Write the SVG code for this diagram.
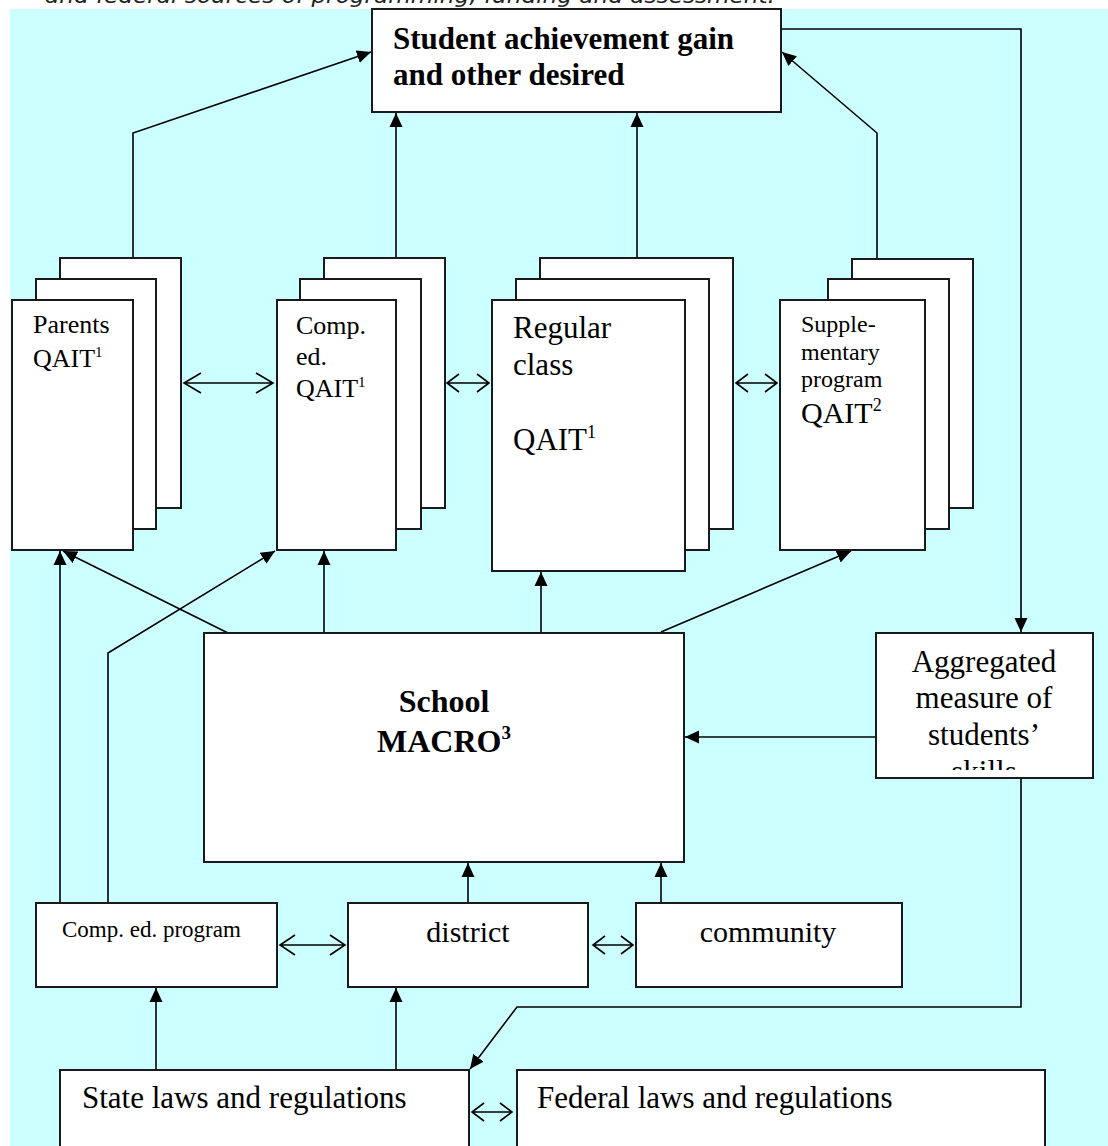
<svg xmlns="http://www.w3.org/2000/svg" width="1108" height="1146" viewBox="0 0 1108 1146">
<style>
.box{fill:#fff;stroke:#1a1a1a;stroke-width:2}
.ln{fill:none;stroke:#000;stroke-width:1.6}
.arr{fill:none;stroke:#000;stroke-width:1.6;marker-end:url(#ah)}
.dbl{fill:none;stroke:#000;stroke-width:1.6}
.t{font-family:"Liberation Serif","Times New Roman",serif;fill:#000}
.b{font-weight:bold}
</style>
<defs>
<marker id="ah" markerUnits="userSpaceOnUse" markerWidth="15" markerHeight="14" refX="14" refY="7" orient="auto">
<path d="M0,0.5 L14,7 L0,13.5 z" fill="#000"/>
</marker>
<clipPath id="aggClip"><rect x="877" y="634" width="215" height="136"/></clipPath>
</defs>
<rect x="0" y="0" width="1108" height="1146" fill="#fff"/>
<text x="45" y="3" font-family="DejaVu Sans, Verdana, sans-serif" font-style="italic" font-size="22" fill="#222" textLength="730" lengthAdjust="spacingAndGlyphs">and federal sources of programming, funding and assessment.</text>
<rect x="10" y="9" width="1098" height="1137" fill="#ccffff"/>

<g id="connectors">
<polyline class="arr" points="133,257 133,133 371,52"/>
<line class="arr" x1="396" y1="257" x2="396" y2="113"/>
<line class="arr" x1="637" y1="257" x2="637" y2="113"/>
<polyline class="arr" points="877,258 877,133 782,52"/>
<polyline class="arr" points="782,29 1021,29 1021,632"/>
<line class="arr" x1="876" y1="737" x2="685" y2="737"/>
<polyline class="arr" points="1021,778 1021,1007 517,1007 470,1069"/>
<line class="arr" x1="228" y1="633" x2="63" y2="551"/>
<line class="arr" x1="324" y1="633" x2="324" y2="551"/>
<line class="arr" x1="541" y1="633" x2="541" y2="572"/>
<line class="arr" x1="661" y1="632" x2="851" y2="551"/>
<line class="arr" x1="60" y1="903" x2="60" y2="551"/>
<polyline class="arr" points="108,903 108,653 275,551"/>
<line class="arr" x1="468" y1="903" x2="468" y2="863"/>
<line class="arr" x1="661" y1="903" x2="661" y2="863"/>
<line class="arr" x1="156" y1="1070" x2="156" y2="988"/>
<line class="arr" x1="396" y1="1070" x2="396" y2="988"/>
<!-- double arrows -->
<path class="dbl" d="M184,383 H273 M201,373 L184,383 L201,393 M256,373 L273,383 L256,393"/>
<path class="dbl" d="M447,383 H489 M459,374 L447,383 L459,392 M477,374 L489,383 L477,392"/>
<path class="dbl" d="M736,383 H777 M748,374 L736,383 L748,392 M765,374 L777,383 L765,392"/>
<path class="dbl" d="M280,945 H345 M295,935 L280,945 L295,955 M330,935 L345,945 L330,955"/>
<path class="dbl" d="M593,945 H633 M605,936 L593,945 L605,954 M621,936 L633,945 L621,954"/>
<path class="dbl" d="M472,1112 H512 M484,1103 L472,1112 L484,1121 M500,1103 L512,1112 L500,1121"/>
</g>

<g id="outcomes">
<rect class="box" x="372" y="9" width="409" height="103"/>
<text class="t b" font-size="31" x="393" y="49">Student achievement gain</text>
<text class="t b" font-size="31" x="393" y="85">and other desired</text>
</g>

<g id="parents">
<rect class="box" x="60" y="258" width="121" height="250"/>
<rect class="box" x="36" y="279" width="120" height="250"/>
<rect class="box" x="12" y="300" width="121" height="250"/>
<text class="t" font-size="26" x="33" y="333">Parents</text>
<text class="t" font-size="26" x="33" y="367">QAIT<tspan font-size="15" dy="-10">1</tspan></text>
</g>

<g id="comp-ed">
<rect class="box" x="324" y="258" width="121" height="250"/>
<rect class="box" x="300" y="279" width="121" height="250"/>
<rect class="box" x="277" y="300" width="119" height="250"/>
<text class="t" font-size="26" x="296" y="334">Comp.</text>
<text class="t" font-size="26" x="296" y="365">ed.</text>
<text class="t" font-size="26" x="296" y="397">QAIT<tspan font-size="15" dy="-10">1</tspan></text>
</g>

<g id="regular-class">
<rect class="box" x="540" y="258" width="193" height="271"/>
<rect class="box" x="516" y="279" width="193" height="271"/>
<rect class="box" x="492" y="300" width="193" height="271"/>
<text class="t" font-size="31" x="513" y="338">Regular</text>
<text class="t" font-size="31" x="513" y="375">class</text>
<text class="t" font-size="31" x="513" y="450">QAIT<tspan font-size="18" dy="-12">1</tspan></text>
</g>

<g id="supplementary">
<rect class="box" x="852" y="259" width="121" height="249"/>
<rect class="box" x="828" y="279" width="121" height="250"/>
<rect class="box" x="780" y="300" width="145" height="250"/>
<text class="t" font-size="24" x="801" y="332">Supple-</text>
<text class="t" font-size="24" x="801" y="360">mentary</text>
<text class="t" font-size="24" x="801" y="387">program</text>
<text class="t" font-size="30" x="801" y="423">QAIT<tspan font-size="18" dy="-12">2</tspan></text>
</g>

<g id="school">
<rect class="box" x="204" y="633" width="480" height="229"/>
<text class="t b" font-size="32" x="444" y="712" text-anchor="middle">School</text>
<text class="t b" font-size="32" x="444" y="752" text-anchor="middle">MACRO<tspan font-size="19" dy="-13">3</tspan></text>
</g>

<g id="aggregated">
<rect class="box" x="876" y="633" width="217" height="145"/>
<g clip-path="url(#aggClip)">
<text class="t" font-size="31" x="984" y="672" text-anchor="middle">Aggregated</text>
<text class="t" font-size="31" x="984" y="708" text-anchor="middle">measure of</text>
<text class="t" font-size="31" x="984" y="745" text-anchor="middle">students’</text>
<text class="t" font-size="31" x="984" y="782" text-anchor="middle">skills</text>
</g>
</g>

<g id="comp-ed-program">
<rect class="box" x="36" y="903" width="241" height="84"/>
<text class="t" font-size="23" x="62" y="937">Comp. ed. program</text>
</g>

<g id="district">
<rect class="box" x="348" y="903" width="240" height="84"/>
<text class="t" font-size="30" x="468" y="942" text-anchor="middle">district</text>
</g>

<g id="community">
<rect class="box" x="636" y="903" width="266" height="84"/>
<text class="t" font-size="30" x="768" y="942" text-anchor="middle">community</text>
</g>

<g id="state">
<rect class="box" x="60" y="1070" width="409" height="100"/>
<text class="t" font-size="31" x="82" y="1108">State laws and regulations</text>
</g>

<g id="federal">
<rect class="box" x="517" y="1070" width="528" height="100"/>
<text class="t" font-size="31" x="537" y="1108">Federal laws and regulations</text>
</g>
</svg>
